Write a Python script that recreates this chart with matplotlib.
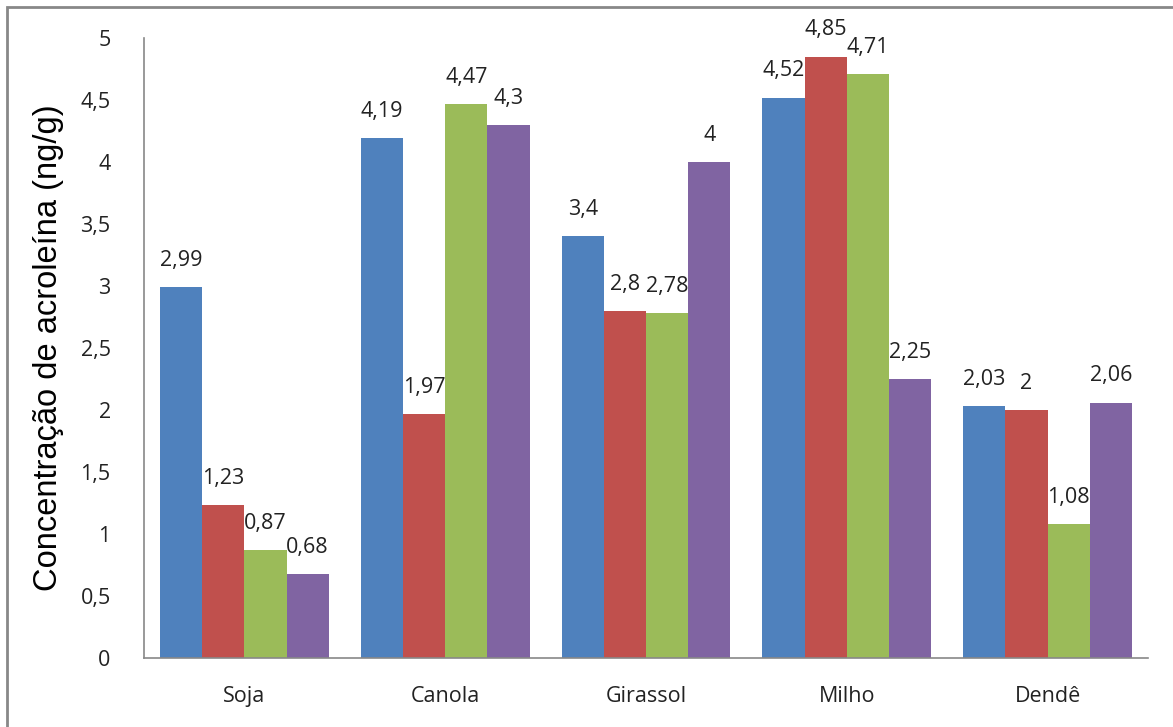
import numpy as np
import matplotlib.pyplot as plt
from matplotlib.patches import Rectangle

# data
oils = ["Soja", "Canola", "Girassol", "Milho", "Dendê"]
serie1 = [2.99, 4.19, 3.4, 4.52, 2.03]
serie2 = [1.23, 1.97, 2.8, 4.85, 2.0]
serie3 = [0.87, 4.47, 2.78, 4.71, 1.08]
serie4 = [0.68, 4.3, 4.0, 2.25, 2.06]
yticks = [0, 0.5, 1, 1.5, 2, 2.5, 3, 3.5, 4, 4.5, 5]

colors = ["#4F81BD", "#C0504D", "#9BBB59", "#8064A2"]

plt.rcParams['font.family'] = ['Open Sans', 'DejaVu Sans']

fig = plt.figure(figsize=(11.73, 7.27), dpi=100)
ax = fig.add_axes([144/1173, 1 - 658/727, (1148 - 144)/1173, (658 - 38)/727])

x = np.arange(len(oils))
w = 0.21
series = [serie1, serie2, serie3, serie4]
for i, vals in enumerate(series):
    pos = x + (i - 1.5) * w
    bars = ax.bar(pos, vals, width=w, color=colors[i], zorder=2)
    for b, v in zip(bars, vals):
        lab = ("%g" % v).replace(".", ",")
        ax.text(b.get_x() + b.get_width()/2, v + 0.13, lab,
                ha="center", va="bottom", fontsize=15.5, color="#222222",
                clip_on=False)

ax.set_xlim(-0.5, len(oils) - 0.5)
ax.set_ylim(0, 5)
ax.set_yticks(yticks)
ax.set_yticklabels([("%g" % t).replace(".", ",") for t in yticks])
ax.set_xticks(x)
ax.set_xticklabels(oils)
ax.tick_params(axis="both", length=0, labelsize=15.5, colors="#222222")
ax.tick_params(axis="y", pad=24)
ax.tick_params(axis="x", pad=20)

for s in ["top", "right"]:
    ax.spines[s].set_visible(False)
for s in ["left", "bottom"]:
    ax.spines[s].set_color("#888888")
    ax.spines[s].set_linewidth(1.2)

ax.set_ylabel("Concentração de acroleína (ng/g)", fontsize=23.5,
              family=['Liberation Sans', 'DejaVu Sans'], labelpad=12)

# outer chart frame
fig.patches.append(Rectangle((7/1173, -0.02), 1.05, 1 - 7/727 + 0.02,
                             transform=fig.transFigure, fill=False,
                             edgecolor="#888888", linewidth=2))

fig.savefig("out.png", dpi=100)
